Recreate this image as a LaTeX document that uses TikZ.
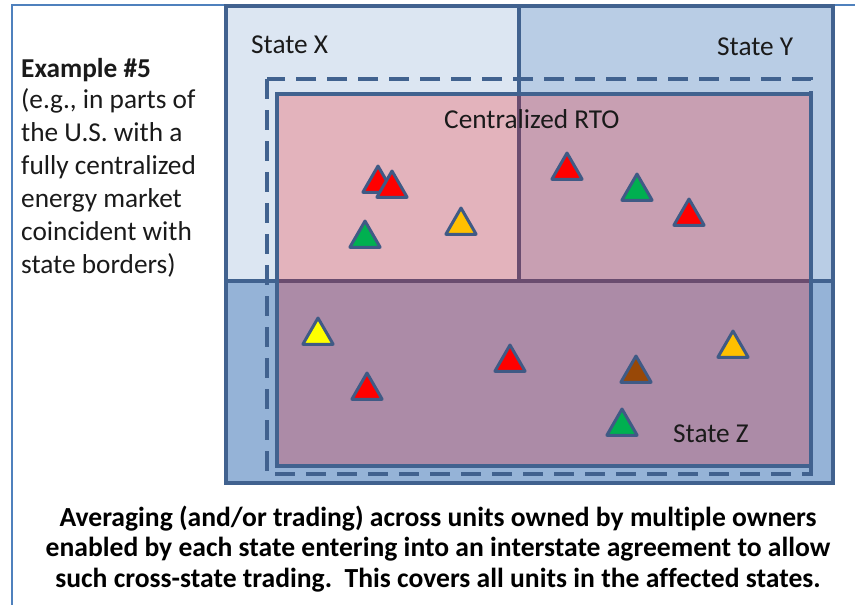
\documentclass[tikz,border=0pt]{standalone}
\usepackage{fontspec}
\setmainfont[Ligatures=NoCommon]{Carlito}
\usetikzlibrary{shapes.geometric}
\definecolor{frameblue}{HTML}{4F81BD}
\definecolor{edgeblue}{HTML}{41628F}
\definecolor{sx}{HTML}{DCE6F2}
\definecolor{sy}{HTML}{B9CDE5}
\definecolor{sz}{HTML}{95B3D7}
\definecolor{tred}{HTML}{FF0000}
\definecolor{tgreen}{HTML}{00B050}
\definecolor{tyellow}{HTML}{FFFF00}
\definecolor{torange}{HTML}{FFC000}
\definecolor{tbrown}{HTML}{984807}
\definecolor{txt}{HTML}{1A1A1A}
\definecolor{triedge}{HTML}{3F5A85}
\begin{document}
\begin{tikzpicture}[x=1pt,y=-1pt,
  statebox/.style={draw=edgeblue, line width=4pt},
  rtofill/.style={fill=red, fill opacity=0.22},
  rtoedge/.style={draw=edgeblue, line width=4pt},
  dashbox/.style={draw=edgeblue, line width=3.5pt, dash pattern=on 20pt off 11pt},
  framel/.style={draw=frameblue, line width=2pt},
  lbl/.style={inner sep=0pt, anchor=base west, font=\fontsize{27.3}{33}\selectfont, text=txt},
  bottomtxt/.style={inner sep=0pt, anchor=base, font=\fontsize{27.6}{30}\selectfont\bfseries, text=black},
  tri/.style={regular polygon, regular polygon sides=3, minimum size=35pt, inner sep=0pt, draw=triedge, line width=3pt, line join=round},
]
\useasboundingbox (0,0) rectangle (855,605);
\fill[white] (0,0) rectangle (855,605);
% outer frame lines
\draw[framel] (12,605) -- (12,5) -- (855,5);
% states
\fill[sx] (226,6) rectangle (519,281);
\fill[sy] (519,6) rectangle (833,281);
\fill[sz] (226,281) rectangle (833,483);
\draw[statebox] (226,6) rectangle (519,281);
\draw[statebox] (519,6) rectangle (833,281);
\draw[statebox] (226,281) rectangle (833,483);
% centralized RTO
\fill[rtofill] (277,94) rectangle (811,466);
\draw[rtoedge] (277,94) rectangle (811,466);
\draw[dashbox] (267,79) rectangle (811,474);
% labels
\node[lbl] (sxl) at (251,53) {State X};
\node[lbl] (syl) at (717,55) {State Y};
\node[lbl] (rtol) at (444,128) {Centralized RTO};
\node[lbl] (szl) at (673,442) {State Z};
% left text
\node[lbl, font=\fontsize{27.3}{33}\selectfont\bfseries] (l1) at (21,77) {Example \#5};
\node[lbl] (l2) at (21,108) {(e.g., in parts of};
\node[lbl] (l3) at (21,141) {the U.S. with a};
\node[lbl] (l4) at (21,174) {fully centralized};
\node[lbl] (l5) at (21,207) {energy market};
\node[lbl] (l6) at (21,240) {coincident with};
\node[lbl] (l7) at (21,273) {state borders)};
% bottom text
\node[bottomtxt] (b1) at (438,526) {Averaging (and/or trading) across units owned by multiple owners};
\node[bottomtxt] (b2) at (438,556) {enabled by each state entering into an interstate agreement to allow};
\node[bottomtxt] (b3) at (438,587) {such cross-state trading.\ \ This covers all units in the affected states.};
% units
\node[tri, fill=tred] (r1) at (378,183.5) {};
\node[tri, fill=tred] (r2) at (392,188.5) {};
\node[tri, fill=tgreen] (g1) at (365,238.5) {};
\node[tri, fill=torange] (o1) at (461,225.5) {};
\node[tri, fill=tred] (r3) at (567,170.5) {};
\node[tri, fill=tgreen] (g2) at (637,191.5) {};
\node[tri, fill=tred] (r4) at (689,216.5) {};
\node[tri, fill=tyellow] (y1) at (318,335.5) {};
\node[tri, fill=tred] (r5) at (367,390.5) {};
\node[tri, fill=tred] (r6) at (510,362.5) {};
\node[tri, fill=tbrown] (br1) at (636,373.5) {};
\node[tri, fill=torange] (o2) at (733,348.5) {};
\node[tri, fill=tgreen] (g3) at (622,426.5) {};
\end{tikzpicture}
\end{document}
